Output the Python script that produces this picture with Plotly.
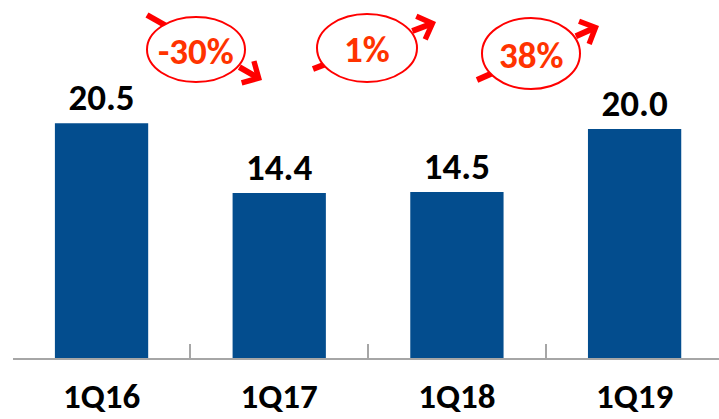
import plotly.graph_objects as go
import math

categories = ["1Q16", "1Q17", "1Q18", "1Q19"]
values = [20.5, 14.4, 14.5, 20.0]
value_labels = ["20.5", "14.4", "14.5", "20.0"]
change_labels = ["-30%", "1%", "38%"]

W, H = 719, 419
AXIS_Y = 358  # pixel row of the x axis line
PX_PER_UNIT = 11.45
FONT = "Calibri, Carlito, Lato, sans-serif"
BAR_COLOR = "#034D8E"
RED = "#FF0000"
TXT_RED = "#FF3300"


def px(x):
    return x / W


def py(y):
    return (AXIS_Y - y) / AXIS_Y


fig = go.Figure()
fig.add_trace(go.Bar(
    x=categories, y=values, text=value_labels, textposition="outside",
    texttemplate="%{text}", cliponaxis=False, hoverinfo="skip",
    marker=dict(color=BAR_COLOR, line=dict(width=0)), width=0.525,
    textfont=dict(family=FONT, size=37, color="#000000", weight="bold"),
))

# ---- change bubbles (decoration) ----
bubbles = [
    dict(box=(147, 245, 17, 82), tc=(196, 51), tail=(147, 15), tip=(262, 80)),
    dict(box=(317, 417, 14, 82), tc=(367, 49), tail=(313, 69), tip=(436, 22)),
    dict(box=(482, 580, 18, 89), tc=(531, 56), tail=(477, 80), tip=(599, 26)),
]

shapes = []
annotations = []
for b, lab in zip(bubbles, change_labels):
    x0, x1, y0, y1 = b["box"]
    cx, cy = (x0 + x1) / 2, (y0 + y1) / 2
    rx, ry = (x1 - x0) / 2, (y1 - y0) / 2
    ax_, ay_ = b["tail"]
    bx_, by_ = b["tip"]
    dx, dy = bx_ - ax_, by_ - ay_
    ox, oy = ax_ - cx, ay_ - cy
    A = (dx / rx) ** 2 + (dy / ry) ** 2
    B = 2 * (ox * dx / rx ** 2 + oy * dy / ry ** 2)
    C = (ox / rx) ** 2 + (oy / ry) ** 2 - 1
    t = (-B + math.sqrt(B * B - 4 * A * C)) / (2 * A)
    ex, ey = ax_ + t * dx, ay_ + t * dy
    shapes.append(dict(type="line", xref="paper", yref="paper",
                       x0=px(ax_), y0=py(ay_), x1=px(ex), y1=py(ey),
                       line=dict(color=RED, width=6)))
    shapes.append(dict(type="circle", xref="paper", yref="paper",
                       x0=px(x0), x1=px(x1), y0=py(y1), y1=py(y0),
                       fillcolor="white", line=dict(color=RED, width=2)))
    annotations.append(dict(xref="paper", yref="paper", x=px(bx_), y=py(by_),
                            ax=ex - bx_, ay=ey - by_, axref="pixel", ayref="pixel",
                            text="", showarrow=True, arrowhead=4, arrowsize=0.8,
                            arrowwidth=6, arrowcolor=RED, standoff=0, startstandoff=0))
    annotations.append(dict(xref="paper", yref="paper", x=px(b["tc"][0]), y=py(b["tc"][1]),
                            text=lab, showarrow=False,
                            font=dict(family=FONT, size=37, color=TXT_RED, weight="bold"),
                            xanchor="center", yanchor="middle"))

fig.update_layout(
    template="none",
    width=W, height=H,
    margin=dict(l=0, r=0, t=0, b=H - AXIS_Y, pad=0),
    plot_bgcolor="white", paper_bgcolor="white",
    showlegend=False, hovermode=False,
    shapes=shapes, annotations=annotations,
    xaxis=dict(
        type="category", domain=[12.7 / W, 1], range=[-0.5, 3.475], automargin=False,
        showline=True, linecolor="#A6A6A6", linewidth=1.5,
        ticks="inside", tickson="boundaries", ticklen=14, tickcolor="#A6A6A6", tickwidth=1.5,
        tickfont=dict(family=FONT, size=35, color="#000000", weight="bold"),
        ticklabelstandoff=6, showgrid=False, zeroline=False,
    ),
    yaxis=dict(range=[0, AXIS_Y / PX_PER_UNIT], visible=False, showgrid=False,
               zeroline=False, automargin=False),
    font=dict(family=FONT),
)

fig.write_html("out.html", config={"displayModeBar": False},
               post_script="document.body.style.margin='0';")
